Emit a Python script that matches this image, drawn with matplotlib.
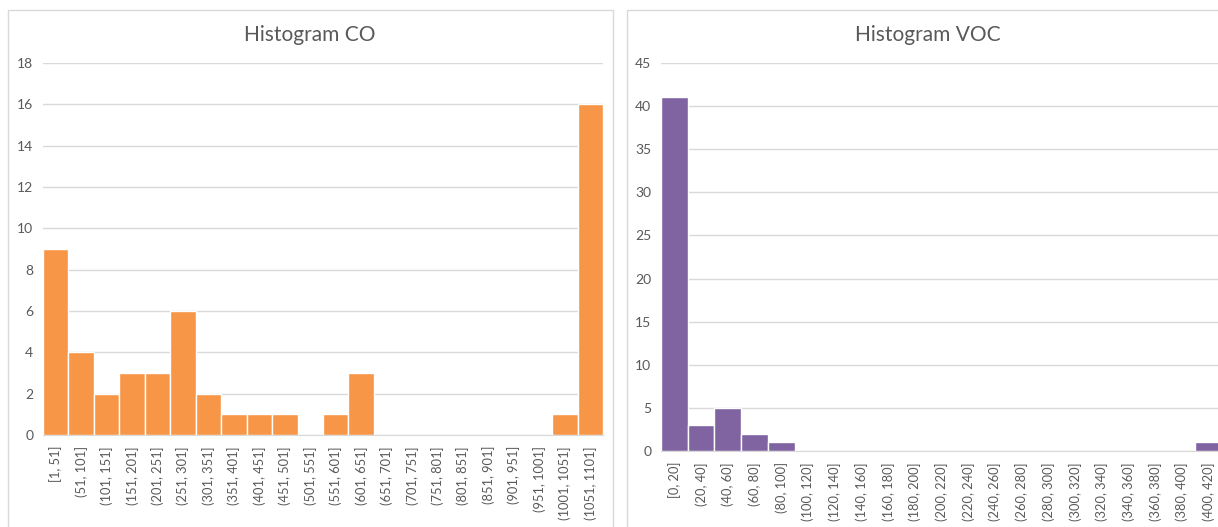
import matplotlib.pyplot as plt
from matplotlib.patches import Rectangle

# bin counts
co_bins = ['[1, 51]', '(51, 101]', '(101, 151]', '(151, 201]', '(201, 251]',
           '(251, 301]', '(301, 351]', '(351, 401]', '(401, 451]', '(451, 501]',
           '(501, 551]', '(551, 601]', '(601, 651]', '(651, 701]', '(701, 751]',
           '(751, 801]', '(801, 851]', '(851, 901]', '(901, 951]', '(951, 1001]',
           '(1001, 1051]', '(1051, 1101]']
co_counts = [9, 4, 2, 3, 3, 6, 2, 1, 1, 1, 0, 1, 3, 0, 0, 0, 0, 0, 0, 0, 1, 16]
co_yticks = [0, 2, 4, 6, 8, 10, 12, 14, 16, 18]

voc_bins = ['[0, 20]', '(20, 40]', '(40, 60]', '(60, 80]', '(80, 100]',
            '(100, 120]', '(120, 140]', '(140, 160]', '(160, 180]', '(180, 200]',
            '(200, 220]', '(220, 240]', '(240, 260]', '(260, 280]', '(280, 300]',
            '(300, 320]', '(320, 340]', '(340, 360]', '(360, 380]', '(380, 400]',
            '(400, 420]']
voc_counts = [41, 3, 5, 2, 1, 0, 0, 0, 0, 0, 0, 0, 0, 0, 0, 0, 0, 0, 0, 0, 1]
voc_yticks = [0, 5, 10, 15, 20, 25, 30, 35, 40, 45]

plt.rcParams['font.family'] = ['Lato', 'DejaVu Sans']
TEXT = '#595959'
GRID = '#d9d9d9'

W, H = 1218, 527
fig = plt.figure(figsize=(W / 100, H / 100), dpi=100)


def px_axes(x0, y0, x1, y1):
    return fig.add_axes([x0 / W, 1 - y1 / H, (x1 - x0) / W, (y1 - y0) / H])


def frame(x0, y0, x1, y1):
    fig.patches.append(Rectangle((x0 / W, 1 - y1 / H), (x1 - x0) / W, (y1 - y0) / H,
                                 transform=fig.transFigure, fill=False,
                                 edgecolor=GRID, linewidth=1))


def histogram(ax, labels, counts, yticks, color, title, title_x):
    xs = range(len(counts))
    ax.bar(xs, counts, width=1.0, color=color, edgecolor='white', linewidth=1, zorder=3)
    ax.set_xlim(-0.5, len(counts) - 0.5)
    ax.set_ylim(yticks[0], yticks[-1])
    ax.set_yticks(yticks)
    ax.set_xticks(list(xs))
    ax.set_xticklabels(labels, rotation=90, ha='center', va='top')
    ax.grid(axis='y', color=GRID, linewidth=1, zorder=0)
    for side in ['left', 'right', 'top']:
        ax.spines[side].set_visible(False)
    ax.spines['bottom'].set_color(GRID)
    ax.tick_params(length=0, colors=TEXT)
    ax.tick_params(axis='y', pad=7, labelsize=10)
    ax.tick_params(axis='x', pad=8, labelsize=9.3)
    fig.text(title_x / W, 1 - 35 / H, title, ha='center', va='center',
             fontsize=15, color=TEXT)


frame(8, 10, 613, 560)
frame(627, 10, 1260, 560)

ax1 = px_axes(43, 63, 603, 435)
histogram(ax1, co_bins, co_counts, co_yticks, '#F79646', 'Histogram CO', 310)

ax2 = px_axes(661, 63, 1222, 451)
histogram(ax2, voc_bins, voc_counts, voc_yticks, '#8064A2', 'Histogram VOC', 928)

fig.savefig('out.png', dpi=100, facecolor='white')
